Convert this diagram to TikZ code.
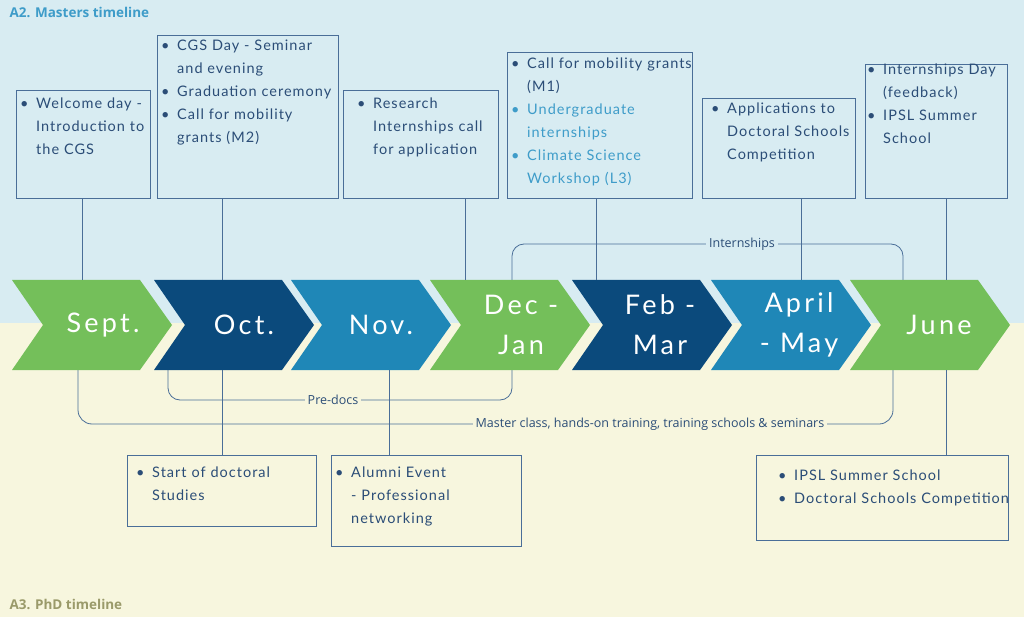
\documentclass[tikz,border=0pt]{standalone}
\usepackage{fontspec}
\setmainfont{Lato}[LetterSpace=7]
\newfontfamily\labfont{Open Sans}
\usetikzlibrary{calc}
\definecolor{bgtop}{HTML}{D8ECF2}
\definecolor{bgbot}{HTML}{F7F6DE}
\definecolor{cgreen}{HTML}{74BF5A}
\definecolor{cdark}{HTML}{0B4A7C}
\definecolor{cmid}{HTML}{1F87B7}
\definecolor{tx}{HTML}{2B4D77}
\definecolor{tlight}{HTML}{3E9CC9}
\definecolor{olive}{HTML}{9A9A6A}
\definecolor{ln}{HTML}{4A6E98}
\newcommand{\bitem}[1]{{\hyphenpenalty=10000\exhyphenpenalty=10000\leftskip=18pt\noindent\llap{\makebox[18pt][l]{\hspace{2pt}\textbullet}}#1\par}}
\begin{document}
\begin{tikzpicture}[x=1pt,y=-1pt,
  boxr/.style={draw=ln,line width=0.8pt,inner sep=0pt},
  boxtext/.style={anchor=north west,inner sep=0pt,align=left,font=\fontsize{14.5}{23}\selectfont,text=tx},
  month/.style={text=white,font=\fontsize{27}{40}\selectfont\addfontfeatures{LetterSpace=12},align=center},
  lnk/.style={draw=ln,line width=0.8pt},
  lab/.style={fill=bgbot,inner sep=3pt,font=\labfont\fontsize{12.5}{14}\selectfont,text=tx},
  labt/.style={fill=bgtop,inner sep=3pt,font=\labfont\fontsize{12.5}{14}\selectfont,text=tx}]
\useasboundingbox (0,0) rectangle (1024,617);
\fill[bgtop] (0,0) rectangle (1024,323);
\fill[bgbot] (0,323) rectangle (1024,617);
\node[anchor=west,font=\labfont\bfseries\fontsize{13.5}{15}\selectfont,text=tlight] (t1) at (6,12) {A2. Masters timeline};
\node[anchor=west,font=\labfont\bfseries\fontsize{13.5}{15}\selectfont,text=olive] (t2) at (6,604) {A3. PhD timeline};
% brackets (behind chevrons)
\coordinate (ia) at (512,280); \coordinate (ib) at (903,280);
\draw[lnk,rounded corners=12pt] (ia) -- (512,244) -- (903,244) -- (ib);
\node[labt] (il) at (742,244) {Internships};
\coordinate (pa) at (168,370); \coordinate (pb) at (512,370);
\draw[lnk,rounded corners=12pt] (pa) -- (168,400) -- (512,400) -- (pb);
\coordinate (ma) at (78,370); \coordinate (mb) at (893,370);
\draw[lnk,rounded corners=14pt] (ma) -- (78,424) -- (893,424) -- (mb);
% chevrons
\foreach \x/\c in {12/cgreen,154/cdark,291/cmid,430/cgreen,572/cdark,711/cmid,850/cgreen}{
  \fill[\c] (\x,280) -- (\x+128,280) -- (\x+160,325) -- (\x+128,370) -- (\x,370) -- (\x+31,325) -- cycle;}
\node[month] (m1) at (103,325) {Sept.};
\node[month] (m2) at (244,325) {Oct.};
\node[month] (m3) at (381,325) {Nov.};
\node[month] (m4) at (521,325) {Dec -\\Jan};
\node[month] (m5) at (660,325) {Feb -\\Mar};
\node[month] (m6) at (799,325) {April\\- May};
\node[month] (m7) at (939,325) {June};
\node[lab] (pl) at (333,400) {Pre-docs};
\node[lab] (ml) at (650,424) {Master class, hands-on training, training schools \& seminars};
% top boxes
\node[boxr,minimum width=134,minimum height=108,anchor=north west] (b1) at (16,90) {};
\node[boxtext,text width=130] at ($(b1.north west)+(2,8)$) {\bitem{Welcome day - Introduction to the CGS}};
\node[boxr,minimum width=181,minimum height=163,anchor=north west] (b2) at (157,35) {};
\node[boxtext,text width=178] at ($(b2.north west)+(2,5)$) {\bitem{CGS Day - Seminar and evening}\bitem{Graduation ceremony}\bitem{Call for mobility grants (M2)}};
\node[boxr,minimum width=155,minimum height=108,anchor=north west] (b3) at (343,90) {};
\node[boxtext,text width=150] at ($(b3.north west)+(12,8)$) {\bitem{Research Internships call for application}};
\node[boxr,minimum width=185,minimum height=146,anchor=north west] (b4) at (507,52) {};
\node[boxtext,text width=182] at ($(b4.north west)+(2,6)$) {\bitem{Call for mobility grants (M1)}\color{tlight}\bitem{Undergraduate internships}\bitem{Climate Science Workshop (L3)}};
\node[boxr,minimum width=153,minimum height=100,anchor=north west] (b5) at (702,98) {};
\node[boxtext,text width=150] at ($(b5.north west)+(7,5)$) {\bitem{Applications to Doctoral Schools Competition}};
\node[boxr,minimum width=142,minimum height=134,anchor=north west] (b6) at (865,64) {};
\node[boxtext,text width=140] at ($(b6.north west)+(0,0)$) {\bitem{Internships Day (feedback)}\bitem{IPSL Summer School}};
% bottom boxes
\node[boxr,minimum width=189,minimum height=71,anchor=north west] (b7) at (127,455) {};
\node[boxtext,text width=182] at ($(b7.north west)+(7,12)$) {\bitem{Start of doctoral Studies}};
\node[boxr,minimum width=190,minimum height=91,anchor=north west] (b8) at (331,455) {};
\node[boxtext,text width=186] at ($(b8.north west)+(2,12)$) {\bitem{Alumni Event - Professional networking}};
\node[boxr,minimum width=252,minimum height=85,anchor=north west] (b9) at (756,455) {};
\node[boxtext,text width=240] at ($(b9.north west)+(20,15)$) {\bitem{IPSL Summer School}\bitem{Doctoral Schools Competition}};
% connectors
\coordinate (c1) at (82,280); \draw[lnk] (b1.south -| c1) -- (c1);
\coordinate (c2) at (222,280); \draw[lnk] (b2.south -| c2) -- (c2);
\coordinate (c3) at (465,280); \draw[lnk] (b3.south -| c3) -- (c3);
\coordinate (c4) at (596,280); \draw[lnk] (b4.south -| c4) -- (c4);
\coordinate (c5) at (801,280); \draw[lnk] (b5.south -| c5) -- (c5);
\coordinate (c6) at (946,280); \draw[lnk] (b6.south -| c6) -- (c6);
\coordinate (d7) at (222,370); \draw[lnk] (d7) -- (b7.north -| d7);
\coordinate (d8) at (389,370); \draw[lnk] (d8) -- (b8.north -| d8);
\coordinate (d9) at (946,370); \draw[lnk] (d9) -- (b9.north -| d9);
\end{tikzpicture}
\end{document}
